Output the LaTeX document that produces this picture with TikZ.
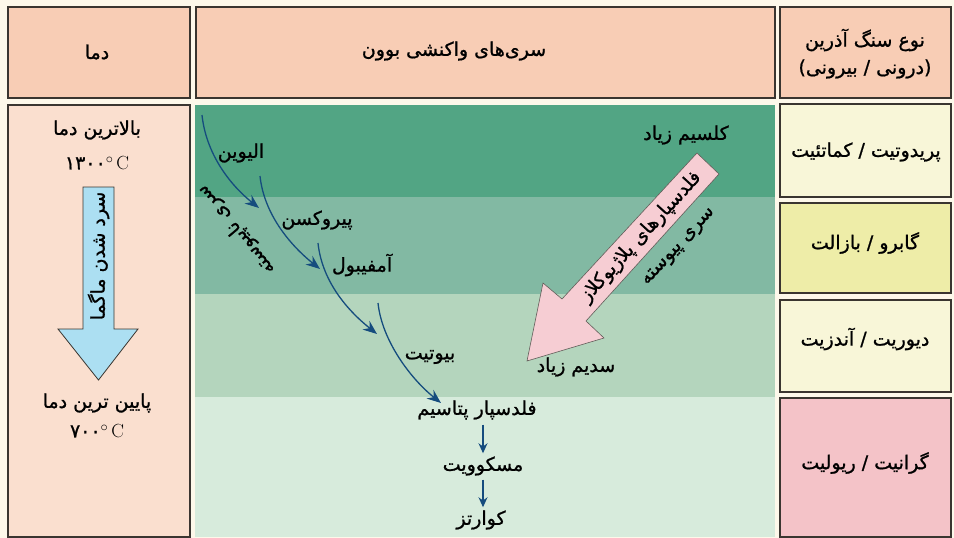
\documentclass[tikz,border=0pt]{standalone}
\usepackage{fontspec}
\TeXXeTstate=1
\newfontfamily\fa[Script=Arabic,FakeBold=1]{DejaVu Sans}
\usetikzlibrary{arrows.meta,calc}
\definecolor{bg}{HTML}{FDF8EA}
\definecolor{hdrfill}{HTML}{F8CDB5}
\definecolor{leftfill}{HTML}{FADFCF}
\definecolor{gA}{HTML}{52A584}
\definecolor{gB}{HTML}{82B9A3}
\definecolor{gC}{HTML}{B4D5BD}
\definecolor{gD}{HTML}{D7EBDC}
\definecolor{rA}{HTML}{F8F6D8}
\definecolor{rB}{HTML}{EEEDA8}
\definecolor{rD}{HTML}{F4C3C8}
\definecolor{bordc}{HTML}{3A3530}
\definecolor{curvec}{HTML}{154C7E}
\definecolor{bluearr}{HTML}{ACDFF2}
\definecolor{pinkarr}{HTML}{F6CDD3}
\begin{document}
\begin{tikzpicture}[x=1pt,y=-1pt,
  box/.style={draw=bordc,line width=1.2pt},
  lbl/.style={font=\fa\fontsize{19}{23}\selectfont,inner sep=0pt,align=center},
  seq/.style={draw=curvec,line width=1.3pt,-{Stealth[length=14pt,width=11pt]}},
  smallseq/.style={draw=curvec,line width=1.2pt,-{Stealth[length=10pt,width=9pt]}}]
\useasboundingbox (0,0) rectangle (954,538);
\fill[bg] (0,0) rectangle (954,538);
% header row
\filldraw[box,fill=hdrfill] (8,7) rectangle (190,98);
\filldraw[box,fill=hdrfill] (196,7) rectangle (775,98);
\filldraw[box,fill=hdrfill] (780,7) rectangle (951,98);
\node[lbl] (hT) at (97,52) {\beginR دما\endR};
\node[lbl] (hB) at (454,51) {\beginR سری^^^^200cهای واکنشی بوون\endR};
\node[lbl] (hR1) at (865,40) {\beginR نوع سنگ آذرین\endR};
\node[lbl] (hR2) at (865,69) {\beginR (درونی / بیرونی)\endR};
% left column
\filldraw[box,fill=leftfill] (8,105) rectangle (190,537);
\node[lbl] (tHigh) at (97,130) {\beginR بالاترین دما\endR};
\node[lbl] (tHighV) at (97,163) {۱۳۰۰$^{\circ}\,\mathrm{C}$};
\filldraw[draw=bordc,line width=0.8pt,fill=bluearr]
  (83,187) -- (114,187) -- (114,329) -- (138,329) -- (98.5,380) -- (58,329) -- (83,329) -- cycle;
\node[lbl,rotate=90] (cool) at (98.5,256) {\beginR سرد شدن ماگما\endR};
\node[lbl] (tLow) at (97,403) {\beginR پایین ترین دما\endR};
\node[lbl] (tLowV) at (97,431) {۷۰۰$^{\circ}\,\mathrm{C}$};
% green bands
\fill[gA] (195,105) rectangle (775,197);
\fill[gB] (195,197) rectangle (775,294);
\fill[gC] (195,294) rectangle (775,397);
\fill[gD] (195,397) rectangle (775,537);
% right column
\filldraw[box,fill=rA] (780,104) rectangle (951,197);
\filldraw[box,fill=rB] (780,203) rectangle (951,293);
\filldraw[box,fill=rA] (780,300) rectangle (951,392);
\filldraw[box,fill=rD] (780,398) rectangle (951,537);
\node[lbl] (r1) at (866,152) {\beginR پریدوتیت / کماتئیت\endR};
\node[lbl] (r2) at (865,243) {\beginR گابرو / بازالت\endR};
\node[lbl] (r3) at (865,339) {\beginR دیوریت / آندزیت\endR};
\node[lbl] (r4) at (865,463) {\beginR گرانیت / ریولیت\endR};
% discontinuous series
\coordinate (s1) at (202,115); \coordinate (e1) at (259,208);
\coordinate (s2) at (260,176); \coordinate (e2) at (320,269);
\coordinate (s3) at (318,243); \coordinate (e3) at (377,334);
\coordinate (s4) at (378,303); \coordinate (e4) at (441,403);
\draw[seq] (s1) .. controls ($(s1)+(4,38)$) and ($(e1)+(-30,-24)$) .. (e1);
\draw[seq] (s2) .. controls ($(s2)+(4,38)$) and ($(e2)+(-30,-24)$) .. (e2);
\draw[seq] (s3) .. controls ($(s3)+(4,38)$) and ($(e3)+(-30,-24)$) .. (e3);
\draw[seq] (s4) .. controls ($(s4)+(4,38)$) and ($(e4)+(-30,-24)$) .. (e4);
\node[lbl] (oliv) at (241,153) {\beginR الیوین\endR};
\node[lbl] (pyro) at (317,220) {\beginR پیروکسن\endR};
\node[lbl] (amph) at (362,265) {\beginR آمفیبول\endR};
\node[lbl] (biot) at (430,357) {\beginR بیوتیت\endR};
\node[lbl] (kfel) at (477,410) {\beginR فلدسپار پتاسیم\endR};
\node[lbl] (musc) at (483,466) {\beginR مسکوویت\endR};
\node[lbl] (quar) at (481,520) {\beginR کوارتز\endR};
\draw[smallseq] ([yshift=-5pt]kfel.south -| musc.center) -- ([yshift=3pt]musc.north);
\draw[smallseq] ([yshift=-4pt]musc.south) -- ([yshift=3pt]quar.north -| musc.center);
\node[lbl,rotate=130] (disc) at (236,230) {\beginR سری ناپیوسته\endR};
% continuous series
\filldraw[draw=bordc!80,line width=0.6pt,fill=pinkarr]
  (697,153) -- (719,174) -- (586,321) -- (604,338) -- (527,361) -- (543,283) -- (562,299) -- cycle;
\node[lbl] (ca) at (686,135) {\beginR کلسیم زیاد\endR};
\node[lbl] (na) at (576,367) {\beginR سدیم زیاد\endR};
\node[lbl,rotate=47.5] (plag) at (641,237) {\beginR فلدسپارهای پلاژیوکلاز\endR};
\node[lbl,rotate=47.5] (cont) at (679,247) {\beginR سری پیوسته\endR};
\end{tikzpicture}
\end{document}
